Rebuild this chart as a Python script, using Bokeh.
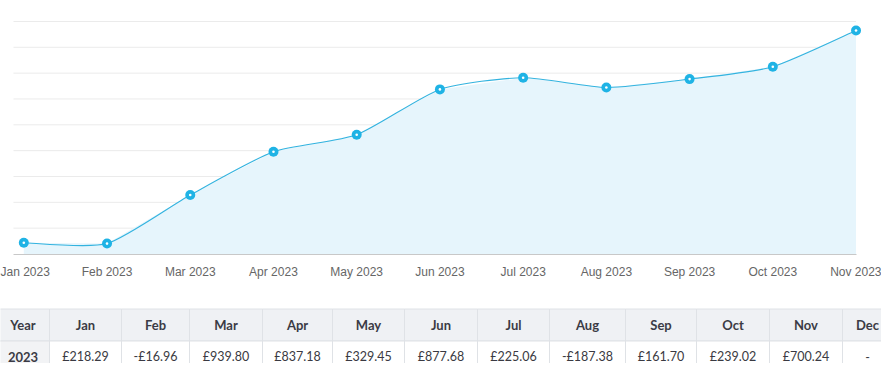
from bokeh.plotting import figure
from bokeh.models import Range1d, FixedTicker
from bokeh.layouts import column
from bokeh.embed import file_html
from bokeh.resources import INLINE
from bokeh.core.properties import value

# ---------------- data ----------------
tick_labels = ["Jan 2023", "Feb 2023", "Mar 2023", "Apr 2023", "May 2023", "Jun 2023",
               "Jul 2023", "Aug 2023", "Sep 2023", "Oct 2023", "Nov 2023"]
cumulative = [218.29, 201.33, 1141.13, 1978.31, 2307.76, 3185.44,
              3410.50, 3223.12, 3384.82, 3623.84, 4324.08]
grid_values = [500, 1000, 1500, 2000, 2500, 3000, 3500, 4000, 4500]

table_header = ["Year", "Jan", "Feb", "Mar", "Apr", "May", "Jun",
                "Jul", "Aug", "Sep", "Oct", "Nov", "Dec"]
table_row = ["2023", "£218.29", "-£16.96", "£939.80", "£837.18", "£329.45", "£877.68",
             "£225.06", "-£187.38", "£161.70", "£239.02", "£700.24", "-"]

# ---------------- styles / layout ----------------
LINE = "#33b3df"
MARK = "#1fb3e5"
FILL = "#e6f5fc"
GRID = "#ebebeb"
AXIS = "#c8c8c8"
TEXT = "#3b3b45"
BORDER = "#dfe2e6"
W = 881
grid_left_pad = 0.124
col_edges = [-4, 49, 121, 189, 262, 332, 404, 477, 549, 625, 696, 769, 842, 892]

# ---------------- chart ----------------
x = list(range(len(cumulative)))
p = figure(width=W, height=300, output_backend="svg", toolbar_location=None,
           x_range=Range1d(-0.28, 10.306), y_range=Range1d(-10, 4906),
           y_axis_location=None,
           min_border_left=0, min_border_right=0, min_border_top=0, min_border_bottom=46)
p.outline_line_color = None
p.grid.visible = False

ax = p.xaxis[0]
ax.ticker = FixedTicker(ticks=x)
ax.major_label_overrides = {i: lab for i, lab in zip(x, tick_labels)}
ax.bounds = (x[0] - grid_left_pad, x[-1])
ax.axis_line_color = AXIS
ax.axis_line_width = 1
ax.major_tick_line_color = None
ax.minor_tick_line_color = None
ax.major_tick_out = 0
ax.major_tick_in = 0
ax.major_label_standoff = 10
ax.major_label_text_font = "Liberation Sans"
ax.major_label_text_font_size = "12px"
ax.major_label_text_color = "#666666"

# horizontal grid lines
p.segment(x0=x[0] - grid_left_pad, x1=x[-1], y0=grid_values, y1=grid_values,
          line_color=GRID, line_width=1)

# area under the series
p.varea(x=x, y1=0, y2=cumulative, fill_color=FILL, fill_alpha=1)

# smooth line through the points
k = 0.11
n = len(x)
bx0, by0, bx1, by1, cx0, cy0, cx1, cy1 = [], [], [], [], [], [], [], []
for i in range(n - 1):
    a = max(i - 1, 0)
    b = min(i + 2, n - 1)
    bx0.append(x[i]); by0.append(cumulative[i])
    bx1.append(x[i + 1]); by1.append(cumulative[i + 1])
    cx0.append(x[i] + k * (x[i + 1] - x[a]))
    cy0.append(cumulative[i] + k * (cumulative[i + 1] - cumulative[a]))
    cx1.append(x[i + 1] - k * (x[b] - x[i]))
    cy1.append(cumulative[i + 1] - k * (cumulative[b] - cumulative[i]))
p.bezier(x0=bx0, y0=by0, x1=bx1, y1=by1, cx0=cx0, cy0=cy0, cx1=cx1, cy1=cy1,
         line_color=LINE, line_width=1.1)

# markers
p.scatter(x=x, y=cumulative, size=10, fill_color=MARK, line_color=None)
p.scatter(x=x, y=cumulative, size=2.6, fill_color="white", line_color=None)

# ---------------- table ----------------
t = figure(width=W, height=63, output_backend="svg", toolbar_location=None,
           x_range=Range1d(0, W), y_range=Range1d(363, 300),
           x_axis_location=None, y_axis_location=None, min_border=0)
t.outline_line_color = None
t.grid.visible = False

lefts = col_edges[:-1]
rights = col_edges[1:]
centers = [(l + r) / 2 for l, r in zip(lefts, rights)]
head_top, head_bot, row_bot = 308.5, 340.5, 380

t.quad(left=lefts, right=rights, top=head_top, bottom=head_bot,
       fill_color="#eff1f4", line_color=BORDER, line_width=1)
row_fill = ["#f2f3f5"] + ["white"] * (len(table_row) - 1)
t.quad(left=lefts, right=rights, top=head_bot, bottom=row_bot,
       fill_color=row_fill, line_color=BORDER, line_width=1)

t.text(x=centers, y=[(head_top + head_bot) / 2] * len(centers), text=table_header,
       text_font=value("Lato"), text_font_size="13px", text_font_style="bold",
       text_color=TEXT, text_align="center", text_baseline="middle")
t.text(x=centers[:1], y=[356], text=table_row[:1],
       text_font=value("Lato"), text_font_size="13px", text_font_style="bold",
       text_color=TEXT, text_align="center", text_baseline="middle")
t.text(x=centers[1:], y=[356] * (len(centers) - 1), text=table_row[1:],
       text_font=value("Lato"), text_font_size="12.5px",
       text_color="#3a3a42", text_align="center", text_baseline="middle")

layout = column(p, t, spacing=0)
open("out.html", "w").write(file_html(layout, INLINE))
